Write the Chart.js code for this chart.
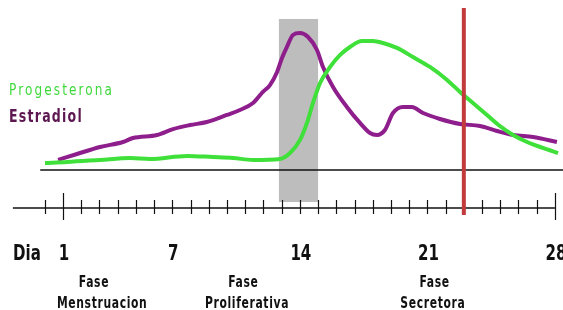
<!DOCTYPE html>
<html>
<head>
<meta charset="utf-8">
<script src="https://cdn.jsdelivr.net/npm/chart.js@4"></script>
<style>
  body { margin: 0; background: #fff; }
</style>
</head>
<body>
<canvas id="ciclo" width="563" height="310"></canvas>
<script>
// dias del ciclo y nivel relativo de cada hormona (0 = linea base)
const estradiolDias = [0.73, 1.77, 3.03, 4.29, 4.84, 6.16, 7.04, 7.97, 8.9, 10.0, 10.71, 11.43, 11.97, 12.36, 12.75, 13.02, 13.29, 13.62, 14.01, 14.45, 14.94, 15.27, 15.82, 16.58, 17.3, 17.85, 18.23, 18.67, 19.11, 19.66, 20.15, 20.76, 21.69, 22.79, 23.89, 24.82, 25.7, 26.8, 28.11];
const estradiolValores = [6.3, 10.0, 14.4, 17.5, 20.0, 21.9, 25.6, 28.1, 30.0, 34.4, 37.5, 41.9, 48.8, 53.1, 61.3, 70.0, 76.9, 84.4, 85.6, 83.1, 75.0, 64.4, 51.9, 39.4, 29.4, 23.1, 21.9, 25.0, 35.6, 39.4, 39.4, 35.6, 31.9, 28.8, 27.5, 24.4, 21.9, 20.6, 17.5];

const progesteronaDias = [0.01, 1.22, 3.03, 4.68, 5.77, 7.81, 9.23, 10.33, 11.43, 12.91, 13.46, 14.01, 14.39, 14.72, 15.11, 15.66, 16.21, 16.75, 17.41, 18.01, 18.56, 19.33, 20.21, 21.14, 22.08, 22.79, 23.5, 24.27, 24.98, 25.7, 26.47, 27.34, 28.17];
const progesteronaValores = [4.4, 5.0, 6.3, 7.5, 6.9, 8.8, 8.1, 7.5, 6.3, 6.9, 10.6, 18.8, 29.4, 41.9, 54.4, 64.4, 71.9, 76.9, 80.6, 80.6, 79.4, 76.3, 70.6, 64.4, 56.3, 48.8, 41.9, 34.4, 27.5, 21.9, 17.5, 13.8, 10.6];

const diasMarcados = [1, 7, 14, 21, 28];
const fases = [['Fase', 'Menstruacion'], ['Fase', 'Proliferativa'], ['Fase', 'Secretora']];
const fasesCentro = [[2.7, 3.15], [10.9, 11.1], [21.4, 21.3]];
const bandaDias = [12.85, 15];
const bandaTope = 94.4;
const marcaDia = 23;

const fuente = '"Liberation Sans Narrow", "DejaVu Sans Condensed", sans-serif';

// texto estrechado horizontalmente (la fuente original es muy condensada)
function texto(ctx, str, x, y, sx) {
  ctx.save();
  ctx.translate(x, y);
  ctx.scale(sx, 1);
  ctx.fillText(str, 0, 0);
  ctx.restore();
}

const dibujo = {
  id: 'dibujo',
  beforeDatasetsDraw(chart) {
    const {ctx, scales: {x, y}} = chart;
    const base = y.getPixelForValue(0);
    ctx.save();
    // banda gris
    const bx0 = x.getPixelForValue(bandaDias[0]);
    const bx1 = x.getPixelForValue(bandaDias[1]);
    const btop = y.getPixelForValue(bandaTope);
    ctx.fillStyle = '#bdbdbd';
    ctx.fillRect(bx0, btop, bx1 - bx0, base + 32 - btop);
    // linea base
    ctx.strokeStyle = '#111';
    ctx.lineWidth = 1.5;
    ctx.beginPath();
    ctx.moveTo(x.getPixelForValue(-0.25), base);
    ctx.lineTo(chart.chartArea.right, base);
    ctx.stroke();
    ctx.restore();
  },
  afterDatasetsDraw(chart) {
    const {ctx, scales: {x, y}} = chart;
    const base = y.getPixelForValue(0);
    const linea = base + 38;
    ctx.save();

    // linea de tiempo con marcas por dia
    ctx.strokeStyle = '#111';
    ctx.lineWidth = 1.5;
    ctx.beginPath();
    ctx.moveTo(x.getPixelForValue(-1.75), linea);
    ctx.lineTo(x.getPixelForValue(28), linea);
    ctx.stroke();
    ctx.lineWidth = 1.2;
    for (let d = 0; d <= 28; d++) {
      const px = Math.round(x.getPixelForValue(d)) + 0.5;
      const alto = (d === 1 || d === 28);
      ctx.beginPath();
      ctx.moveTo(px, linea - (alto ? 15 : 8));
      ctx.lineTo(px, linea + (alto ? 12 : 6));
      ctx.stroke();
    }

    // marca roja
    const rx = x.getPixelForValue(marcaDia);
    ctx.strokeStyle = '#c23a3c';
    ctx.lineWidth = 4;
    ctx.beginPath();
    ctx.moveTo(rx, chart.chartArea.top - 2);
    ctx.lineTo(rx, base + 45);
    ctx.stroke();

    // leyenda
    ctx.textBaseline = 'alphabetic';
    ctx.textAlign = 'left';
    ctx.font = '16px ' + fuente;
    ctx.letterSpacing = '2.5px';
    ctx.fillStyle = '#3fd83c';
    texto(ctx, 'Progesterona', 9, 95, 0.84);
    ctx.fillStyle = '#5c1750';
    ctx.font = 'bold 17px ' + fuente;
    ctx.letterSpacing = '1.5px';
    texto(ctx, 'Estradiol', 9, 122, 0.82);

    // dias
    ctx.letterSpacing = '0px';
    ctx.fillStyle = '#111';
    ctx.font = 'bold 22px ' + fuente;
    texto(ctx, 'Dia', 13, base + 90, 0.76);
    ctx.textAlign = 'center';
    diasMarcados.forEach(d => {
      texto(ctx, String(d), x.getPixelForValue(d) + 1, base + 90, 0.76);
    });

    // fases
    ctx.font = 'bold 15px ' + fuente;
    ctx.letterSpacing = '0.8px';
    fases.forEach((f, i) => {
      texto(ctx, f[0], x.getPixelForValue(fasesCentro[i][0]), base + 117, 0.8);
      texto(ctx, f[1], x.getPixelForValue(fasesCentro[i][1]), base + 138, 0.8);
    });
    ctx.restore();
  }
};

new Chart(document.getElementById('ciclo'), {
  type: 'line',
  data: {
    datasets: [{
      label: 'Progesterona',
      data: progesteronaDias.map((d, i) => ({x: d, y: progesteronaValores[i]})),
      borderColor: '#3fe03a',
      borderWidth: 4,
      pointRadius: 0,
      cubicInterpolationMode: 'monotone'
    }, {
      label: 'Estradiol',
      data: estradiolDias.map((d, i) => ({x: d, y: estradiolValores[i]})),
      borderColor: '#8e1e8c',
      borderWidth: 4,
      pointRadius: 0,
      cubicInterpolationMode: 'monotone'
    }]
  },
  options: {
    responsive: false,
    animation: false,
    layout: { padding: { top: 10, bottom: 140, left: 0, right: 0 } },
    plugins: { legend: { display: false }, tooltip: { enabled: false } },
    scales: {
      x: { type: 'linear', min: -2.458, max: 28.443, display: false },
      y: { min: 0, max: 100, display: false }
    }
  },
  plugins: [dibujo]
});
</script>
</body>
</html>
